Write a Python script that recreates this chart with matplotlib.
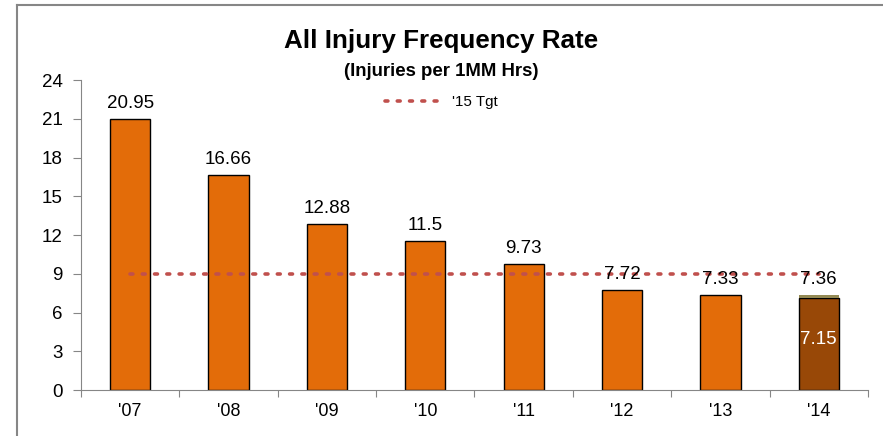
import numpy as np
import matplotlib.pyplot as plt
from matplotlib.lines import Line2D

plt.rcParams['font.family'] = ['Liberation Sans', 'DejaVu Sans']

years = ["'07", "'08", "'09", "'10", "'11", "'12", "'13", "'14"]
rates = [20.95, 16.66, 12.88, 11.5, 9.73, 7.72, 7.33, 7.15]
ytd_extra = 0.21                        # '14 сверху до 7.36
total_14 = 7.36
target = [9, 9, 9, 9, 9, 9, 9, 9]

fig = plt.figure(figsize=(8.83, 4.36), dpi=100)
ax = fig.add_axes([0.0917, 0.1055, 0.8913, 0.711])

x = np.arange(len(years))
colors = ['#E36C09'] * (len(years) - 1) + ['#984807']
ax.bar(x, rates, width=0.41, color=colors, edgecolor='black', linewidth=1, zorder=2)
ax.bar(x[-1], ytd_extra, bottom=rates[-1], width=0.41, color='#948A54', linewidth=0, zorder=2)

# целевая линия
ax.plot(x, target, color='#C0504D', linestyle=(0, (0.8, 2.6)), linewidth=2.6,
        dash_capstyle='round', zorder=3)

# подписи значений
for i in range(len(years) - 1):
    ax.text(x[i], rates[i] + 0.55, str(rates[i]), ha='center', va='bottom', fontsize=13.5)
ax.text(x[-1], total_14 + 0.55, str(total_14), ha='center', va='bottom', fontsize=13.5)
ax.text(x[-1], 3.9, str(rates[-1]), ha='center', va='center', fontsize=13.5, color='white', zorder=4)

ax.set_ylim(0, 24)
ax.set_yticks(range(0, 25, 3))
ax.set_xlim(-0.5, len(years) - 0.5)
ax.set_xticks(np.arange(len(years) + 1) - 0.5)
ax.set_xticklabels([])
ax.set_xticks(x, minor=True)
ax.set_xticklabels(years, minor=True)
ax.tick_params(axis='x', which='major', length=5, color='#868686', direction='out')
ax.tick_params(axis='x', which='minor', length=0, pad=9, labelsize=13)
ax.tick_params(axis='y', length=6, color='#868686', pad=7, labelsize=13.5)

for s in ['top', 'right']:
    ax.spines[s].set_visible(False)
for s in ['left', 'bottom']:
    ax.spines[s].set_color('#868686')

fig.text(0.5, 0.905, 'All Injury Frequency Rate', ha='center', va='center',
         fontsize=18.7, fontweight='bold')
fig.text(0.5, 0.835, '(Injuries per 1MM Hrs)', ha='center', va='center',
         fontsize=13.4, fontweight='bold')

handle = Line2D([], [], color='#C0504D', linestyle=(0, (0.8, 2.6)), linewidth=2.6,
                dash_capstyle='round')
fig.legend([handle], ["'15 Tgt"], loc='center', bbox_to_anchor=(0.5, 0.765),
           frameon=False, fontsize=10.9, handlelength=3.8, handletextpad=0.6)

# рамка
fig.add_artist(Line2D([0.0195, 0.0195], [0, 0.988], color='#868686', linewidth=1.5))
fig.add_artist(Line2D([0.0195, 1], [0.988, 0.988], color='#868686', linewidth=1.5))

fig.savefig('out.png', dpi=100)
